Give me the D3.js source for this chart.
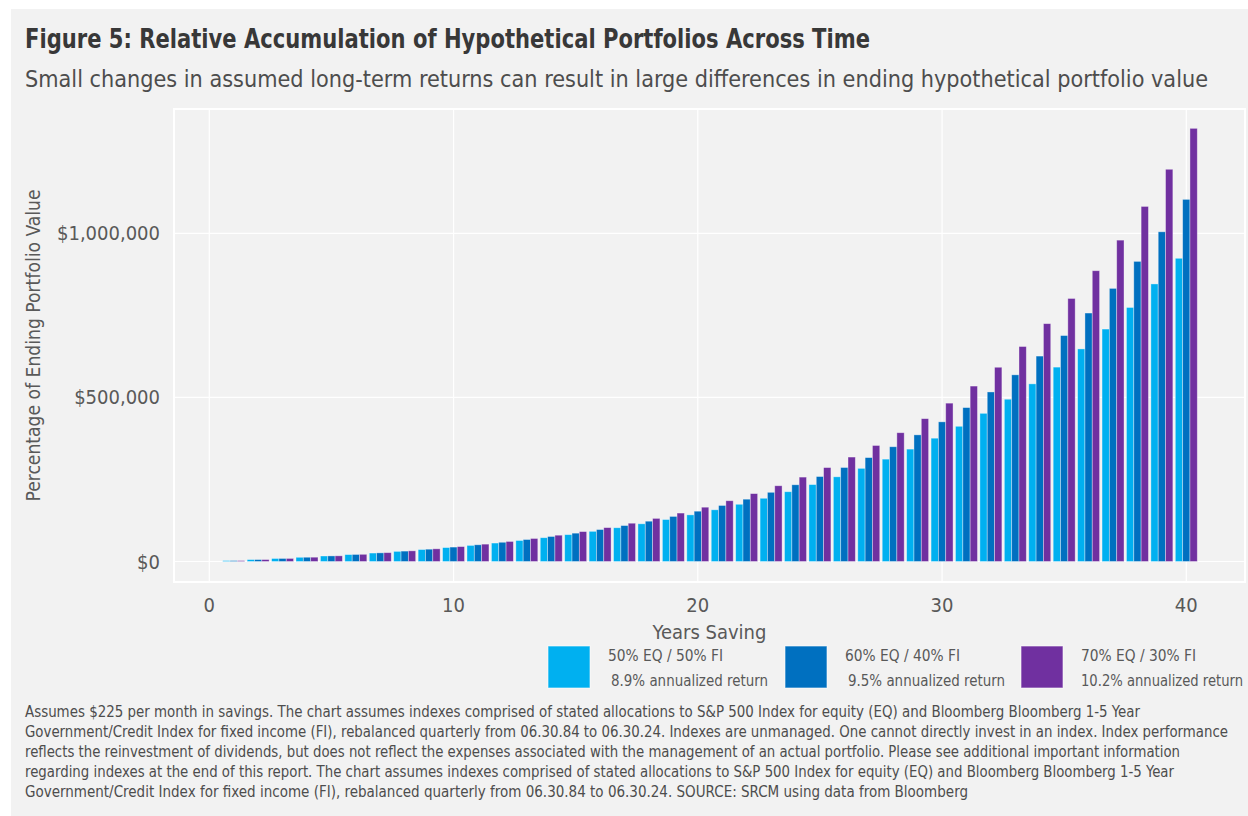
<!DOCTYPE html>
<html>
<head>
<meta charset="utf-8">
<script src="https://cdn.jsdelivr.net/npm/d3@7/dist/d3.min.js"></script>
<style>
  body { margin: 0; background: #fff; }
  text { font-family: "Liberation Sans Narrow", "DejaVu Sans Condensed", Roboto, sans-serif; }
</style>
</head>
<body>
<svg id="chart"></svg>
<script>
  // data
  const years = [1, 2, 3, 4, 5, 6, 7, 8, 9, 10, 11, 12, 13, 14, 15, 16, 17, 18, 19, 20,
    21, 22, 23, 24, 25, 26, 27, 28, 29, 30, 31, 32, 33, 34, 35, 36, 37, 38, 39, 40]

  // 50% EQ / 50% FI
  const eq50 = [2808, 5867, 9197, 12824, 16774, 21075, 25760, 30860, 36415, 42465,
    49052, 56227, 64039, 72547, 81812, 91902, 102889, 114855, 127885, 142076,
    157529, 174358, 192683, 212640, 234374, 258041, 283816, 311883, 342449, 375736,
    411984, 451460, 494450, 541262, 592249, 647762, 708221, 774062, 845762, 923843]

  // 60% EQ / 40% FI
  const eq60 = [2816, 5902, 9282, 12984, 17040, 21484, 26352, 31685, 37527, 43927,
    50939, 58620, 67034, 76252, 86351, 97413, 109533, 122809, 137354, 153288,
    170742, 189865, 210813, 233762, 258903, 286444, 316616, 349669, 385878, 425546,
    469002, 516608, 568760, 625893, 688482, 757049, 832163, 914451, 1004598, 1103353]

  // 70% EQ / 30% FI
  const eq70 = [2824, 5936, 9365, 13145, 17310, 21899, 26957, 32530, 38673, 45441,
    52900, 61119, 70177, 80159, 91161, 103283, 116641, 131362, 147585, 165463,
    185164, 206875, 230800, 257165, 286220, 318238, 353523, 392407, 435257, 482477,
    534512, 591857, 655050, 724689, 801431, 886001, 979197, 1081899, 1195077, 1319799]

  const seriesNames = ['50% EQ / 50% FI', '60% EQ / 40% FI', '70% EQ / 30% FI']
  const seriesReturns = ['8.9% annualized return', '9.5% annualized return', '10.2% annualized return']
  const seriesColors = ['#00b0f0', '#0070c0', '#7030a0']

  const xTicks = [0, 10, 20, 30, 40]
  const yTicks = [0, 500000, 1000000]

  const titleText = 'Figure 5: Relative Accumulation of Hypothetical Portfolios Across Time'
  const subtitleText = 'Small changes in assumed long-term returns can result in large differences in ending hypothetical portfolio value'
  const xTitle = 'Years Saving'
  const yTitle = 'Percentage of Ending Portfolio Value'
  const footLines = [
    'Assumes $225 per month in savings. The chart assumes indexes comprised of stated allocations to S&P 500 Index for equity (EQ) and Bloomberg Bloomberg 1-5 Year',
    'Government/Credit Index for fixed income (FI), rebalanced quarterly from 06.30.84 to 06.30.24. Indexes are unmanaged. One cannot directly invest in an index. Index performance',
    'reflects the reinvestment of dividends, but does not reflect the expenses associated with the management of an actual portfolio. Please see additional important information',
    'regarding indexes at the end of this report. The chart assumes indexes comprised of stated allocations to S&P 500 Index for equity (EQ) and Bloomberg Bloomberg 1-5 Year',
    'Government/Credit Index for fixed income (FI), rebalanced quarterly from 06.30.84 to 06.30.24. SOURCE: SRCM using data from Bloomberg'
  ]

  // layout
  const W = 1248
  const H = 816
  const panel = { left: 174, top: 109, right: 1245, bottom: 582 }
  const footWidths = [1115, 1203, 1155, 1149, 943]
  const legendX = [548, 785, 1021]
  const legendW1 = [115, 115, 115]
  const legendW2 = [157, 157, 162]

  const svg = d3.select('#chart').attr('width', W).attr('height', H)

  // background card
  svg.append('rect').attr('x', 11).attr('y', 9).attr('width', W - 11).attr('height', H - 9)
    .attr('fill', '#f2f2f2')

  // titles
  svg.append('text').attr('x', 25).attr('y', 48)
    .attr('font-size', 26).attr('font-weight', 'bold').attr('fill', '#383838')
    .attr('textLength', 845).attr('lengthAdjust', 'spacingAndGlyphs')
    .text(titleText)
  svg.append('text').attr('x', 25).attr('y', 87)
    .attr('font-size', 23).attr('fill', '#4d4d4d')
    .attr('textLength', 1183).attr('lengthAdjust', 'spacingAndGlyphs')
    .text(subtitleText)

  // scales
  const x = d3.scaleLinear().domain([0, 40]).range([209.3, 1186.3])
  const y = d3.scaleLinear().domain([0, 1000000]).range([561.5, 233.3])
  const step = x(1) - x(0)
  const groupW = step * 0.9
  const sub = d3.scaleBand().domain(d3.range(3)).range([-groupW / 2, groupW / 2])

  // panel
  svg.append('rect')
    .attr('x', panel.left).attr('y', panel.top)
    .attr('width', panel.right - panel.left).attr('height', panel.bottom - panel.top)
    .attr('fill', '#f2f2f2').attr('stroke', '#fff').attr('stroke-width', 2)

  // grid
  svg.append('g').selectAll('line').data(yTicks).enter().append('line')
    .attr('x1', panel.left).attr('x2', panel.right)
    .attr('y1', d => y(d)).attr('y2', d => y(d))
    .attr('stroke', '#fff').attr('stroke-width', 1.2)
  svg.append('g').selectAll('line').data(xTicks).enter().append('line')
    .attr('y1', panel.top).attr('y2', panel.bottom)
    .attr('x1', d => x(d)).attr('x2', d => x(d))
    .attr('stroke', '#fff').attr('stroke-width', 1.2)

  // bars
  const series = [eq50, eq60, eq70]
  series.forEach((vals, s) => {
    svg.append('g').selectAll('rect').data(years).enter().append('rect')
      .attr('x', (d) => x(d) + sub(s))
      .attr('width', sub.bandwidth())
      .attr('y', (d, i) => y(vals[i]))
      .attr('height', (d, i) => y(0) - y(vals[i]))
      .attr('fill', seriesColors[s])
      .attr('stroke', 'rgba(255,255,255,0.45)').attr('stroke-width', 0.8)
  })

  // tick labels
  svg.append('g').selectAll('text').data(yTicks).enter().append('text')
    .attr('x', 160).attr('y', d => y(d)).attr('dy', '0.35em')
    .attr('text-anchor', 'end').attr('font-size', 20).attr('fill', '#595959')
    .text(d => '$' + d3.format(',')(d))
  svg.append('g').selectAll('text').data(xTicks).enter().append('text')
    .attr('x', d => x(d)).attr('y', 612)
    .attr('text-anchor', 'middle').attr('font-size', 20).attr('fill', '#595959')
    .text(d => d)

  // axis titles
  svg.append('text').attr('x', (panel.left + panel.right) / 2).attr('y', 639)
    .attr('text-anchor', 'middle').attr('font-size', 20).attr('fill', '#595959')
    .text(xTitle)
  svg.append('text')
    .attr('transform', 'translate(40,' + (panel.top + panel.bottom) / 2 + ') rotate(-90)')
    .attr('text-anchor', 'middle').attr('font-size', 20).attr('fill', '#595959')
    .attr('textLength', 312).attr('lengthAdjust', 'spacingAndGlyphs')
    .text(yTitle)

  // legend
  const legend = svg.append('g').selectAll('g').data(seriesNames).enter().append('g')
    .attr('transform', (d, i) => 'translate(' + legendX[i] + ',646)')
  legend.append('rect').attr('width', 42).attr('height', 42)
    .attr('fill', (d, i) => seriesColors[i])
    .attr('stroke', 'rgba(255,255,255,0.6)').attr('stroke-width', 1)
  legend.append('text').attr('x', 60).attr('y', 15)
    .attr('font-size', 15).attr('fill', '#595959')
    .attr('textLength', (d, i) => legendW1[i]).attr('lengthAdjust', 'spacingAndGlyphs')
    .text(d => d)
  legend.append('text').attr('x', (d, i) => i < 2 ? 63 : 60).attr('y', 40)
    .attr('font-size', 15).attr('fill', '#595959')
    .attr('textLength', (d, i) => legendW2[i]).attr('lengthAdjust', 'spacingAndGlyphs')
    .text((d, i) => seriesReturns[i])

  // footnote
  svg.append('g').selectAll('text').data(footLines).enter().append('text')
    .attr('x', 25).attr('y', (d, i) => 717 + i * 20)
    .attr('font-size', 15).attr('fill', '#4d4d4d')
    .attr('textLength', (d, i) => footWidths[i]).attr('lengthAdjust', 'spacingAndGlyphs')
    .text(d => d)
</script>
</body>
</html>
